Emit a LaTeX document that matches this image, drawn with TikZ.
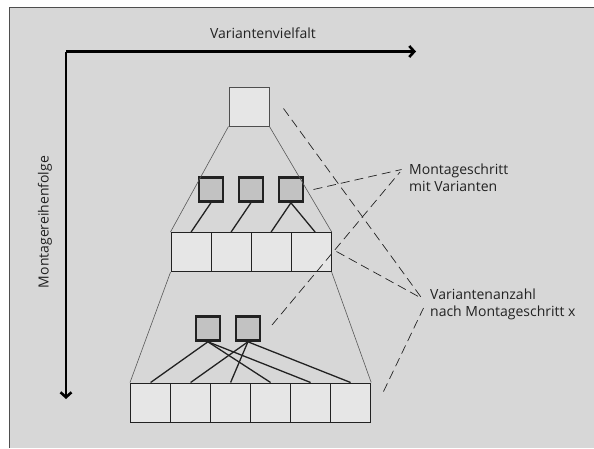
\documentclass[tikz,border=0pt]{standalone}
\usepackage{fontspec}
\setmainfont{Open Sans}
\usetikzlibrary{arrows.meta}
\definecolor{bg}{HTML}{D7D7D7}
\definecolor{lightbox}{HTML}{E6E6E6}
\definecolor{darkbox}{HTML}{C2C2C2}
\definecolor{ink}{HTML}{222222}
\tikzset{
  cell/.style={draw=ink, line width=1.2pt, fill=lightbox, minimum width=40pt, minimum height=39pt, inner sep=0pt, anchor=north west},
  topcell/.style={draw=ink!80, line width=0.9pt, fill=lightbox, minimum width=40pt, minimum height=39pt, inner sep=0pt, anchor=north west},
  stepbox/.style={draw=ink, line width=2.8pt, fill=darkbox, minimum width=24pt, minimum height=24pt, inner sep=0pt, anchor=north west},
  link/.style={draw=ink, line width=1.3pt},
  hull/.style={draw=ink!75, line width=0.6pt},
  callout/.style={draw=ink, line width=0.7pt, dash pattern=on 9pt off 5pt},
  axis/.style={draw=black, line width=2.6pt, -{Straight Barb[length=5pt,width=11pt,line width=2.6pt]}},
  label/.style={font=\fontsize{14}{17}\selectfont, align=left, inner sep=0pt, text=ink}
}
\begin{document}
\begin{tikzpicture}[x=1pt,y=-1pt]
\useasboundingbox (0,0) rectangle (594,448);
\clip (0,0) rectangle (594,448);
% frame: only the top and left edges lie inside the page
\fill[white] (0,0) rectangle (594,448);
\fill[bg] (9,7.5) rectangle (594,448);
\draw[ink!80, line width=0.8pt] (9,448) -- (9,7.5) -- (594,7.5);

% axes
\coordinate (origin) at (66,51.5);
\coordinate (xend) at (416,51.5);
\coordinate (yend) at (66,399);
\draw[axis] (origin) -- (xend);
\draw[axis] (origin) -- (yend);
\node[label, anchor=center] (xlab) at (263,33) {Variantenvielfalt};
\node[label, anchor=center, rotate=90] (ylab) at (45,222) {Montagereihenfolge};

% top element
\node[topcell] (top) at (228.5,86.5) {};

% first assembly step
\node[stepbox] (s1) at (197.5,176) {};
\node[stepbox] (s2) at (237.5,176) {};
\node[stepbox] (s3) at (277.5,176) {};

% variants after first step
\foreach \i in {1,...,4} {
  \node[cell] (m\i) at ({170.5+40*(\i-1)},232) {};
}

% second assembly step
\node[stepbox] (t1) at (194.5,315) {};
\node[stepbox] (t2) at (234.5,315) {};

% variants after second step
\foreach \i in {1,...,6} {
  \node[cell] (b\i) at ({130+40*(\i-1)},382.5) {};
}

% hull lines
\draw[hull] (top.south west) -- (m1.north west);
\draw[hull] (top.south east) -- (m4.north east);
\draw[hull] (m1.south west) -- (b1.north west);
\draw[hull] (m4.south east) -- (b6.north east);

% step-to-variant links
\draw[link] (s1.south) -- (m1.north);
\draw[link] (s2.south) -- (m2.north);
\draw[link] (s3.south) -- (m3.north);
\draw[link] (s3.south) -- ([xshift=4pt]m4.north);
\draw[link] (t1.south) -- (b1.north);
\draw[link] (t1.south) -- (b4.north);
\draw[link] (t1.south) -- (b5.north);
\draw[link] (t2.south) -- (b2.north);
\draw[link] (t2.south) -- (b3.north);
\draw[link] (t2.south) -- (b6.north);

% labels
\node[label, anchor=west] (lstep) at (409,178) {Montageschritt\\mit Varianten};
\node[label, anchor=west] (lcount) at (430,304) {Variantenanzahl\\nach Montageschritt x};

% callout anchors
\coordinate (cs1) at (401.5,169.5);
\coordinate (cs2) at (400,172);
\coordinate (cc1) at (422,298.5);
\coordinate (cc2) at (423.5,308);
\coordinate (e1) at (313.5,189.5);
\coordinate (e2) at (272,325);
\coordinate (f1) at (283.5,108.5);
\coordinate (f2) at (336.5,251.5);
\coordinate (f3) at (383.5,391.5);

\draw[callout] (e1) -- (cs1);
\draw[callout] (e2) -- (cs2);
\draw[callout] (f1) -- (cc1);
\draw[callout] (f2) -- (cc1);
\draw[callout] (f3) -- (cc2);
\end{tikzpicture}
\end{document}
